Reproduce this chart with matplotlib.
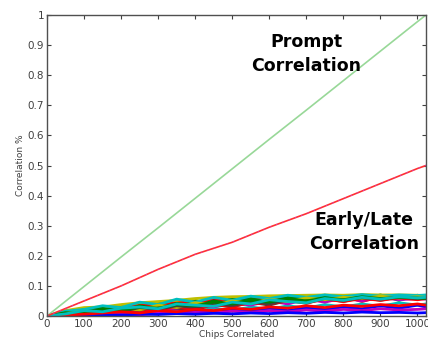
import numpy as np
import matplotlib
matplotlib.use('Agg')
import matplotlib.pyplot as plt

# chips correlated (x) and the two main correlation curves
chips = [0, 100, 200, 300, 400, 500, 600, 700, 800, 900, 1000, 1023]
prompt_corr = [0, 0.098, 0.196, 0.293, 0.391, 0.489, 0.587, 0.684, 0.782, 0.880, 0.978, 1.0]
early_late_corr = [0, 0.05, 0.10, 0.155, 0.205, 0.245, 0.295, 0.34, 0.39, 0.44, 0.49, 0.5]

# cross correlation with the other codes (thousandths), sampled every 50 chips
band_chips = [0, 50, 100, 150, 200, 250, 300, 350, 400, 450, 500,
              550, 600, 650, 700, 750, 800, 850, 900, 950, 1000, 1023]
band_lines = [
    [0, 15, 12, 28, 20, 38, 30, 48, 40, 55, 45, 62, 50, 66, 55, 69, 58, 70, 60, 68, 62, 64],
    [0, 5, 18, 14, 32, 22, 44, 30, 52, 35, 60, 42, 63, 48, 67, 50, 68, 55, 70, 52, 69, 60],
    [0, 10, 25, 18, 22, 40, 26, 50, 34, 60, 38, 55, 60, 44, 62, 52, 66, 48, 64, 58, 67, 62],
    [0, 3, 8, 12, 6, 16, 10, 20, 14, 26, 18, 30, 22, 34, 26, 38, 30, 40, 32, 44, 36, 40],
    [0, 8, 4, 20, 16, 12, 28, 22, 36, 30, 44, 36, 50, 40, 56, 46, 60, 50, 62, 54, 58, 56],
    [0, 18, 28, 30, 38, 44, 48, 52, 58, 62, 64, 65, 67, 68, 69, 70, 69, 71, 70, 70, 69, 68],
    [0, 6, 14, 8, 24, 18, 32, 26, 20, 38, 30, 46, 36, 52, 42, 58, 48, 62, 52, 64, 56, 60],
    [0, 2, 6, 4, 10, 6, 14, 10, 18, 12, 22, 16, 26, 18, 28, 22, 30, 24, 34, 26, 36, 30],
    [0, 12, 20, 26, 16, 34, 24, 42, 32, 50, 40, 58, 46, 62, 52, 66, 56, 68, 58, 66, 60, 63],
    [0, 4, 10, 16, 12, 24, 20, 30, 26, 38, 32, 44, 40, 50, 44, 56, 48, 58, 52, 60, 54, 58],
    [0, 16, 22, 34, 28, 46, 38, 56, 46, 62, 52, 66, 58, 69, 62, 70, 64, 71, 66, 70, 68, 70],
    [0, 1, 3, 6, 8, 4, 10, 8, 12, 10, 16, 12, 18, 14, 20, 16, 22, 18, 24, 20, 22, 24],
    [0, 9, 16, 10, 26, 20, 36, 28, 44, 36, 50, 42, 56, 48, 60, 54, 62, 58, 66, 60, 64, 62],
    [0, 5, 12, 20, 14, 28, 22, 34, 28, 42, 34, 48, 40, 54, 46, 58, 52, 60, 56, 62, 58, 60],
    [0, 1, 2, 4, 3, 6, 5, 8, 6, 9, 7, 10, 8, 11, 9, 12, 10, 13, 11, 12, 10, 11],
    [0, 11, 8, 22, 18, 30, 26, 38, 34, 46, 40, 52, 46, 58, 50, 60, 54, 64, 58, 62, 60, 58],
    [0, 3, 6, 10, 14, 10, 18, 14, 22, 18, 26, 22, 30, 26, 34, 28, 36, 32, 38, 34, 40, 36],
    [0, 7, 18, 14, 26, 30, 24, 40, 36, 32, 46, 40, 54, 48, 44, 58, 52, 62, 56, 64, 60, 62],
]

matlab_colors = ['#0000ff', '#008000', '#ff0000', '#00bfbf', '#bf00bf', '#bfbf00', '#404040']

fig = plt.figure(figsize=(4.28, 3.47), dpi=100)
ax = fig.add_axes([47 / 428, 31 / 347, 379 / 428, 301 / 347])

# the noisy band of cross correlations
for i, row in enumerate(band_lines):
    ax.plot(band_chips, np.array(row) / 1000.0, color=matlab_colors[i % 7], lw=2.0)

ax.plot(chips, prompt_corr, color='#98d898', lw=1.2)
ax.plot(chips, early_late_corr, color='#ff3030', lw=1.2)
ax.plot(chips, early_late_corr, color='#c040ff', lw=0.6, ls=(0, (2, 6)), alpha=0.7)

ax.set_xlim(0, 1023)
ax.set_ylim(0, 1)
ax.set_xticks(range(0, 1001, 100))
ax.set_yticks(np.arange(0, 1.01, 0.1))
ax.set_yticklabels(['0', '0.1', '0.2', '0.3', '0.4', '0.5', '0.6', '0.7', '0.8', '0.9', '1'])
ax.tick_params(direction='in', length=3, width=0.8, top=True, right=True,
               labelsize=7.5, labelcolor='#404040', color='#404040', pad=2)
for sp in ax.spines.values():
    sp.set_color('#505050')
    sp.set_linewidth(1.0)

ax.set_xlabel('Chips Correlated', fontsize=6.5, color='#404040', labelpad=1)
ax.set_ylabel('Correlation %', fontsize=6.5, color='#404040', labelpad=2)

# annotations placed in figure coordinates
fig.text(306 / 428, 1 - 54 / 347, 'Prompt\nCorrelation', ha='center', va='center',
         fontsize=12.5, fontweight='bold', family='DejaVu Sans', linespacing=1.4)
fig.text(364 / 428, 1 - 232 / 347, 'Early/Late\nCorrelation', ha='center', va='center',
         fontsize=12.5, fontweight='bold', family='DejaVu Sans', linespacing=1.4)

fig.savefig('out.png', dpi=100)
